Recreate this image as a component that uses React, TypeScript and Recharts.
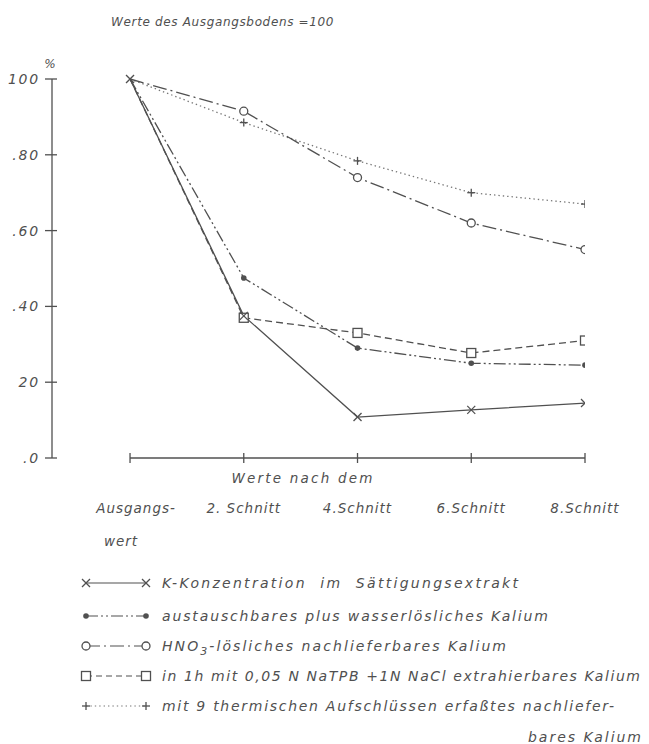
import React from 'react';
import { LineChart, Line, XAxis, YAxis, ReferenceLine, Legend, Label } from 'recharts';

const categories = ['Ausgangs-|wert', '2. Schnitt', '4.Schnitt', '6.Schnitt', '8.Schnitt'];
const kKonzentration = [100, 37.5, 10.8, 12.7, 14.5];
const austauschbar = [100, 47.5, 29, 25, 24.5];
const hno3Loeslich = [100, 91.5, 74, 62, 55];
const natpbExtrahiert = [100, 37, 33, 27.7, 31];
const thermisch = [100, 88.5, 78.4, 70, 67];
const yTicks = [0, 20, 40, 60, 80, 100];
const yTickLabels = ['.0', '20', '.40', '.60', '.80', '100'];
const legendLabels = [
  'K-Konzentration  im  Sättigungsextrakt',
  'austauschbares plus wasserlösliches Kalium',
  'HNO3-lösliches nachlieferbares Kalium',
  'in 1h mit 0,05 N NaTPB +1N NaCl extrahierbares Kalium',
  'mit 9 thermischen Aufschlüssen erfaßtes nachliefer-',
];
const legendLabelCont = 'bares Kalium';

const data = categories.map((c, i) => ({
  idx: i,
  k: kKonzentration[i],
  a: austauschbar[i],
  h: hno3Loeslich[i],
  n: natpbExtrahiert[i],
  t: thermisch[i],
}));

const FONT = '"DejaVu Sans", sans-serif';
const INK = '#505050';
const LINE = '#505050';

type MK = 'x' | 'dot' | 'circle' | 'square' | 'plus';

const Marker = ({ kind, cx, cy }: { kind: MK; cx: number; cy: number }) => {
  const s = 4;
  switch (kind) {
    case 'x':
      return (
        <g stroke={LINE} strokeWidth={1.3}>
          <line x1={cx - s} y1={cy - s} x2={cx + s} y2={cy + s} />
          <line x1={cx - s} y1={cy + s} x2={cx + s} y2={cy - s} />
        </g>
      );
    case 'dot':
      return <circle cx={cx} cy={cy} r={2.8} fill={LINE} stroke="none" />;
    case 'circle':
      return <circle cx={cx} cy={cy} r={4} fill="#fff" stroke={LINE} strokeWidth={1.3} />;
    case 'square':
      return <rect x={cx - 4.5} y={cy - 4.5} width={9} height={9} fill="#fff" stroke={LINE} strokeWidth={1.3} />;
    case 'plus':
      return (
        <g stroke={LINE} strokeWidth={1.3}>
          <line x1={cx - s} y1={cy} x2={cx + s} y2={cy} />
          <line x1={cx} y1={cy - s} x2={cx} y2={cy + s} />
        </g>
      );
  }
  return null;
};

const makeDot = (kind: MK, showFirst: boolean) => (props: any) => {
  const { cx, cy, index } = props;
  if (cx == null || cy == null) return <g key={`e${index}`} />;
  if (index === 0 && !showFirst) return <g key={`e${index}`} />;
  return (
    <g key={`${kind}${index}`}>
      <Marker kind={kind} cx={cx} cy={cy} />
    </g>
  );
};

const XTick = (props: any) => {
  const { x, y, payload } = props;
  const label = categories[payload.value] || '';
  const parts = label.split('|');
  return (
    <g>
      <line x1={x} y1={y - 5} x2={x} y2={y + 5} stroke={LINE} strokeWidth={1.3} />
      <text x={x + (parts.length > 1 ? 6 : 0)} y={y + 55} textAnchor="middle" fontFamily={FONT} fontStyle="italic" fontSize={13.5} fill={INK} letterSpacing={1.0}>
        {parts[0]}
      </text>
      {parts.length > 1 && (
        <text x={x - 9} y={y + 88} textAnchor="middle" fontFamily={FONT} fontStyle="italic" fontSize={13.5} fill={INK} letterSpacing={1.0}>
          {parts[1]}
        </text>
      )}
    </g>
  );
};

const YTick = (props: any) => {
  const { x, y, payload } = props;
  const i = yTicks.indexOf(payload.value);
  return (
    <g>
      <line x1={x - 7} y1={y} x2={x + 5} y2={y} stroke={LINE} strokeWidth={1.3} />
      <text x={x - 12} y={y + 5} textAnchor="end" fontFamily={FONT} fontStyle="italic" fontSize={14} fill={INK} letterSpacing={1.8}>
        {yTickLabels[i]}
      </text>
    </g>
  );
};

const legendStyles: { kind: MK; dash?: string; color: string }[] = [
  { kind: 'x', color: LINE },
  { kind: 'dot', dash: '12 3 2 3 2 3', color: LINE },
  { kind: 'circle', dash: '14 4 2 4', color: LINE },
  { kind: 'square', dash: '6 4', color: LINE },
  { kind: 'plus', dash: '1.4 3', color: '#777' },
];
const legendWidths = [356, 386, 344, 478, 452];

const LegendText = ({ i, x, y }: { i: number; x: number; y: number }) => {
  const label = legendLabels[i];
  const common = {
    fontFamily: FONT,
    fontStyle: 'italic',
    fontSize: 14,
    fill: INK,
    textLength: legendWidths[i],
    lengthAdjust: 'spacing',
    style: { whiteSpace: 'pre' as const },
  };
  if (label.startsWith('HNO3')) {
    return (
      <text x={x} y={y} {...(common as any)}>
        HNO<tspan dy={4} fontSize={11}>3</tspan>
        <tspan dy={-4}>{label.slice(4)}</tspan>
      </text>
    );
  }
  return (
    <text x={x} y={y} {...(common as any)}>
      {label}
    </text>
  );
};

const LegendContent = () => {
  const rowY = [583, 616, 646, 676, 706];
  const top = 560;
  return (
    <svg width={649} height={184}>
      {legendStyles.map((st, i) => {
        const y = rowY[i] - top;
        return (
          <g key={i}>
            <line x1={86} y1={y} x2={146} y2={y} stroke={st.color} strokeWidth={1.2} strokeDasharray={st.dash} />
            <Marker kind={st.kind} cx={86} cy={y} />
            <Marker kind={st.kind} cx={146} cy={y} />
            <LegendText i={i} x={162} y={y + 5} />
          </g>
        );
      })}
      <text
        x={528}
        y={737 - top + 5}
        fontFamily={FONT}
        fontStyle="italic"
        fontSize={14}
        fill={INK}
        textLength={113}
        lengthAdjust="spacing"
      >
        {legendLabelCont}
      </text>
    </svg>
  );
};

export default function App() {
  return (
    <div style={{ position: 'absolute', left: 0, top: 0, width: 649, height: 744, background: '#fff' }}>
      <div
        style={{
          position: 'absolute',
          left: 111,
          top: 15,
          fontFamily: FONT,
          fontStyle: 'italic',
          fontSize: 12,
          letterSpacing: 0.65,
          color: INK,
          whiteSpace: 'pre',
          zIndex: 2,
        }}
      >
        {'Werte des Ausgangsbodens =100'}
      </div>
      <LineChart width={649} height={744} data={data} margin={{ top: 79, right: 64, bottom: 226, left: 0 }}>
        <XAxis
          dataKey="idx"
          type="number"
          domain={[-0.686, 4]}
          allowDataOverflow
          ticks={[0, 1, 2, 3, 4]}
          axisLine={false}
          tickLine={false}
          tickSize={0}
          tickMargin={0}
          height={60}
          tick={<XTick />}
          interval={0}
        >
          <Label
            content={(p: any) => {
              const vb = p.viewBox || { x: 52, y: 458 };
              return (
                <text x={vb.x + 251} y={vb.y + 25} textAnchor="middle" fontFamily={FONT} fontStyle="italic" fontSize={13.5} fill={INK} letterSpacing={2.2}>
                  Werte nach dem
                </text>
              );
            }}
          />
        </XAxis>
        <YAxis
          type="number"
          domain={[0, 100]}
          ticks={yTicks}
          width={52}
          axisLine={{ stroke: LINE, strokeWidth: 1.3 }}
          tickLine={false}
          tickSize={0}
          tickMargin={0}
          tick={<YTick />}
          interval={0}
        >
          <Label
            content={(p: any) => {
              const vb = p.viewBox || { x: 0, y: 79, width: 52 };
              return (
                <text x={vb.x + vb.width - 2} y={vb.y - 11} textAnchor="middle" fontFamily={FONT} fontStyle="italic" fontSize={12} fill={INK}>
                  %
                </text>
              );
            }}
          />
        </YAxis>
        <ReferenceLine segment={[{ x: 0, y: 0 }, { x: 4, y: 0 }]} stroke={LINE} strokeWidth={1.3} />
        <Line dataKey="t" name={legendLabels[4]} stroke="#777" strokeWidth={1.3} strokeDasharray="1.4 3" dot={makeDot('plus', false)} isAnimationActive={false} />
        <Line dataKey="h" name={legendLabels[2]} stroke={LINE} strokeWidth={1.3} strokeDasharray="14 4 2 4" dot={makeDot('circle', false)} isAnimationActive={false} />
        <Line dataKey="a" name={legendLabels[1]} stroke={LINE} strokeWidth={1.3} strokeDasharray="12 3 2 3 2 3" dot={makeDot('dot', false)} isAnimationActive={false} />
        <Line dataKey="n" name={legendLabels[3]} stroke={LINE} strokeWidth={1.3} strokeDasharray="7 4" dot={makeDot('square', false)} isAnimationActive={false} />
        <Line dataKey="k" name={legendLabels[0]} stroke={LINE} strokeWidth={1.3} dot={makeDot('x', true)} isAnimationActive={false} />
        <Legend
          layout="horizontal"
          align="center"
          verticalAlign="middle"
          wrapperStyle={{ position: 'absolute', left: 0, top: 560, width: 649, height: 184 }}
          content={<LegendContent />}
        />
      </LineChart>
    </div>
  );
}
